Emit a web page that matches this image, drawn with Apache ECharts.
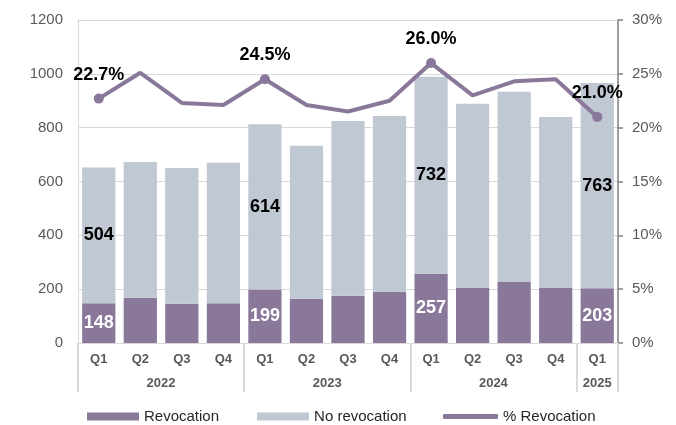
<!DOCTYPE html>
<html>
<head>
<meta charset="utf-8">
<script src="https://cdn.jsdelivr.net/npm/echarts@6/dist/echarts.min.js"></script>
<style>
  html, body { margin: 0; padding: 0; background: #fff; }
  #chart { width: 676px; height: 425px; }
</style>
</head>
<body>
<div id="chart"></div>
<script>
// data
const quarters = ['Q1', 'Q2', 'Q3', 'Q4', 'Q1', 'Q2', 'Q3', 'Q4', 'Q1', 'Q2', 'Q3', 'Q4', 'Q1']
const years = ['2022', '2023', '2024', '2025']
const quartersPerYear = [4, 4, 4, 1]
const revocation = [148, 168, 146, 148, 199, 164, 176, 190, 257, 204, 227, 204, 203]
const noRevocation = [504, 504, 504, 522, 614, 569, 649, 653, 732, 685, 706, 636, 763]
const pctRevocation = [22.7, 25.1, 22.3, 22.1, 24.5, 22.1, 21.5, 22.5, 26.0, 23.0, 24.3, 24.5, 21.0]
const labelled = [0, 4, 8, 12]

const purple = '#8a789a'
const grey = '#c0c8d3'
const textGrey = '#595959'
const font = 'Liberation Sans, Arial, sans-serif'

// year labels sit on a half-band axis so they can be centered under each group
const yearSlots = []
for (let i = 0; i <= quarters.length * 2; i++) yearSlots.push('')
let start = 0
years.forEach((y, i) => {
  yearSlots[start * 2 + quartersPerYear[i]] = y
  start += quartersPerYear[i]
})

const barLabel = (color) => ({
  show: true,
  position: 'inside',
  color: color,
  fontSize: 18,
  fontWeight: 'bold',
  fontFamily: font
})

const chart = echarts.init(document.getElementById('chart'))
chart.setOption({
  animation: false,
  textStyle: { fontFamily: font },
  grid: { left: 78, right: 58, top: 20, bottom: 82 },
  legend: [
    {
      data: ['Revocation', 'No revocation'],
      left: 87, top: 409, padding: 0,
      itemWidth: 52, itemHeight: 8, itemGap: 38,
      icon: 'rect',
      textStyle: { fontSize: 15, color: '#262626', fontFamily: font }
    },
    {
      data: [{ name: '% Revocation', icon: 'roundRect' }],
      left: 443, top: 409, padding: 0,
      itemWidth: 55, itemHeight: 5,
      textStyle: { fontSize: 15, color: '#262626', fontFamily: font }
    }
  ],
  xAxis: [
    {
      type: 'category',
      data: quarters,
      axisLine: { lineStyle: { color: '#d9d9d9', width: 1 } },
      axisTick: {
        show: true,
        length: 49,
        interval: (i) => labelled.indexOf(i) !== -1,
        lineStyle: { color: '#d9d9d9', width: 2 }
      },
      axisLabel: { interval: 0, color: textGrey, fontSize: 13, fontWeight: 'bold', margin: 10 }
    },
    {
      type: 'category',
      position: 'bottom',
      offset: 24,
      boundaryGap: false,
      data: yearSlots,
      axisLine: { show: false },
      axisTick: { show: false },
      axisLabel: { interval: 0, color: textGrey, fontSize: 13, fontWeight: 'bold', margin: 10 }
    }
  ],
  yAxis: [
    {
      type: 'value',
      min: 0, max: 1200, interval: 200,
      axisLine: { show: true, lineStyle: { color: '#d9d9d9' } },
      axisTick: { show: false },
      splitLine: { lineStyle: { color: '#d9d9d9' } },
      axisLabel: { color: textGrey, fontSize: 15, margin: 15, formatter: (v) => String(v) }
    },
    {
      type: 'value',
      min: 0, max: 30, interval: 5,
      axisLine: { show: true, lineStyle: { color: '#7f7f7f', width: 1.5 } },
      axisTick: { show: true, length: 5, lineStyle: { color: '#7f7f7f', width: 1.5 } },
      splitLine: { show: false },
      axisLabel: { color: textGrey, fontSize: 15, margin: 14, formatter: (v) => v + '%' }
    }
  ],
  series: [
    {
      name: 'Revocation',
      type: 'bar',
      stack: 'total',
      barCategoryGap: '20%',
      itemStyle: { color: purple },
      data: revocation.map((v, i) => ({
        value: v,
        label: labelled.indexOf(i) !== -1 ? barLabel('#ffffff') : { show: false }
      }))
    },
    {
      name: 'No revocation',
      type: 'bar',
      stack: 'total',
      itemStyle: { color: grey },
      data: noRevocation.map((v, i) => ({
        value: v,
        label: labelled.indexOf(i) !== -1 ? barLabel('#000000') : { show: false }
      }))
    },
    {
      name: '% Revocation',
      type: 'line',
      yAxisIndex: 1,
      z: 5,
      symbol: 'circle',
      showSymbol: true,
      lineStyle: { color: purple, width: 4 },
      itemStyle: { color: purple },
      data: pctRevocation.map((v, i) => {
        const on = labelled.indexOf(i) !== -1
        return {
          value: v,
          symbolSize: on ? 10 : 0,
          label: {
            show: on,
            position: 'top',
            distance: 10,
            formatter: (p) => p.value.toFixed(1) + '%',
            color: '#000000',
            fontSize: 18,
            fontWeight: 'bold',
            fontFamily: font
          }
        }
      })
    }
  ]
})
</script>
</body>
</html>
